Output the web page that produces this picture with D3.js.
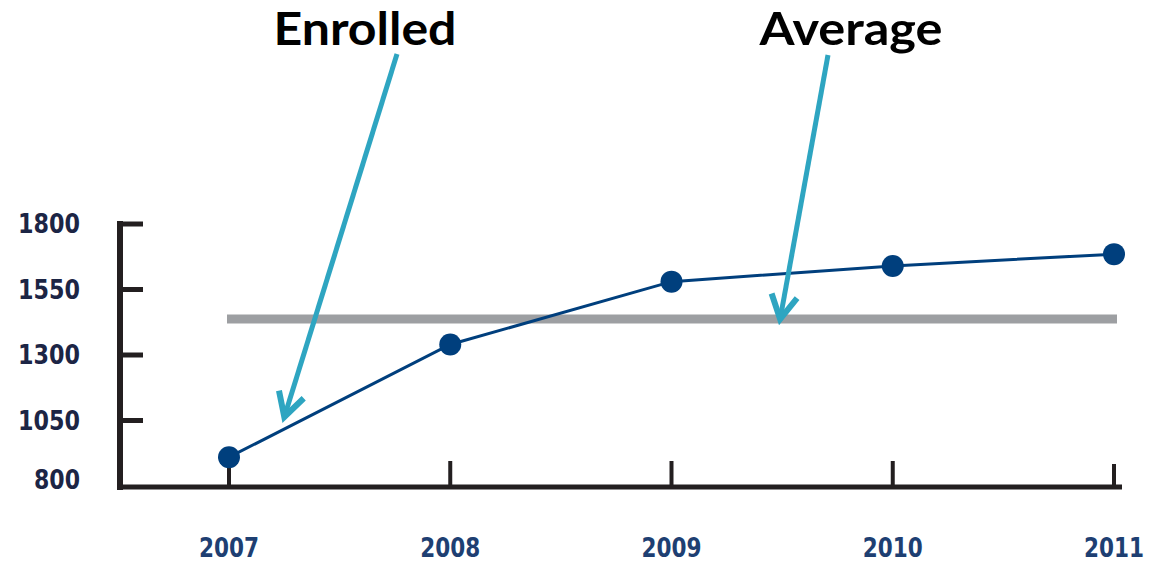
<!DOCTYPE html>
<html>
<head>
<meta charset="utf-8">
<script src="https://d3js.org/d3.v7.min.js"></script>
<style>
body { margin: 0; background: #fff; }
svg { display: block; }
.ylab, .xlab { font-family: "DejaVu Sans Condensed", "Liberation Sans Narrow", sans-serif; font-weight: bold; }
.note { font-family: Lato, "Open Sans", sans-serif; font-weight: bold; }
</style>
</head>
<body>
<script>
// data
var years = ["2007", "2008", "2009", "2010", "2011"];
var enrolled = [910, 1340, 1580, 1640, 1685];
var average = 1437;
var yTicks = [800, 1050, 1300, 1550, 1800];

var width = 1151, height = 565;
var svg = d3.select("body").append("svg")
    .attr("width", width)
    .attr("height", height);

var x = d3.scalePoint().domain(years).range([229, 1114]);
var y = d3.scaleLinear().domain([800, 1800]).range([486, 224]);

var ink = "#231f20", navy = "#003f7d", teal = "#2ea5c1";

// y axis line + ticks
svg.append("line")
    .attr("x1", 120).attr("x2", 120)
    .attr("y1", 221).attr("y2", 490)
    .attr("stroke", ink).attr("stroke-width", 6);
svg.selectAll(".yt").data(yTicks.slice(1)).enter().append("line")
    .attr("x1", 120).attr("x2", 143)
    .attr("y1", d => y(d)).attr("y2", d => y(d))
    .attr("stroke", ink).attr("stroke-width", 5);
svg.selectAll(".ylab").data(yTicks).enter().append("text")
    .attr("class", "ylab")
    .attr("x", 80)
    .attr("y", d => d == 800 ? y(d) - 6 : y(d))
    .attr("dy", "0.36em")
    .attr("text-anchor", "end")
    .attr("font-size", 26)
    .attr("textLength", d => d == 800 ? 46 : 62)
    .attr("lengthAdjust", "spacingAndGlyphs")
    .attr("fill", "#1c2545")
    .text(d => d);

// x axis line + ticks
svg.append("line")
    .attr("x1", 117).attr("x2", 1122)
    .attr("y1", 487).attr("y2", 487)
    .attr("stroke", ink).attr("stroke-width", 5);
svg.selectAll(".xt").data(years).enter().append("line")
    .attr("x1", d => x(d)).attr("x2", d => x(d))
    .attr("y1", d => d == "2011" ? 464 : 461).attr("y2", 487)
    .attr("stroke", ink).attr("stroke-width", 4);
svg.selectAll(".xlab").data(years).enter().append("text")
    .attr("class", "xlab")
    .attr("x", d => x(d))
    .attr("y", 557)
    .attr("text-anchor", "middle")
    .attr("font-size", 26)
    .attr("textLength", 60)
    .attr("lengthAdjust", "spacingAndGlyphs")
    .attr("fill", "#1e3f72")
    .text(d => d);

// average line
svg.append("line")
    .attr("x1", x("2007") - 2).attr("x2", x("2011") + 3)
    .attr("y1", y(average)).attr("y2", y(average))
    .attr("stroke", "#9d9fa2").attr("stroke-width", 9);

// enrolled line + dots
var pts = years.map((yr, i) => [x(yr), y(enrolled[i])]);
svg.append("path")
    .attr("d", d3.line()(pts))
    .attr("fill", "none")
    .attr("stroke", navy).attr("stroke-width", 3);
svg.selectAll(".dot").data(pts).enter().append("circle")
    .attr("cx", d => d[0]).attr("cy", d => d[1])
    .attr("r", 11)
    .attr("fill", navy);

// callout arrows
function arrow(x0, y0, x1, y1) {
    svg.append("line")
        .attr("x1", x0).attr("y1", y0).attr("x2", x1).attr("y2", y1)
        .attr("stroke", teal).attr("stroke-width", 5);
    var a = Math.atan2(y0 - y1, x0 - x1), L = 27, s = 0.5;
    var p = [[x1 + L * Math.cos(a - s), y1 + L * Math.sin(a - s)], [x1, y1],
             [x1 + L * Math.cos(a + s), y1 + L * Math.sin(a + s)]];
    svg.append("path")
        .attr("d", d3.line()(p))
        .attr("fill", "none")
        .attr("stroke", teal).attr("stroke-width", 6)
        .attr("stroke-linejoin", "miter").attr("stroke-linecap", "butt");
}
var tipE = [pts[0][0] + 0.25 * (pts[1][0] - pts[0][0]), pts[0][1] + 0.25 * (pts[1][1] - pts[0][1]) - 12];
arrow(397, 54, tipE[0], tipE[1]);
arrow(828, 55, (x("2009") + x("2010")) / 2 - 2, y(average));

svg.append("text").attr("class", "note")
    .attr("x", 365).attr("y", 45).attr("text-anchor", "middle")
    .attr("font-size", 46).attr("textLength", 183).attr("lengthAdjust", "spacingAndGlyphs")
    .attr("fill", "#000").text("Enrolled");
svg.append("text").attr("class", "note")
    .attr("x", 851).attr("y", 45).attr("text-anchor", "middle")
    .attr("font-size", 46).attr("textLength", 183).attr("lengthAdjust", "spacingAndGlyphs")
    .attr("fill", "#000").text("Average");
</script>
</body>
</html>
